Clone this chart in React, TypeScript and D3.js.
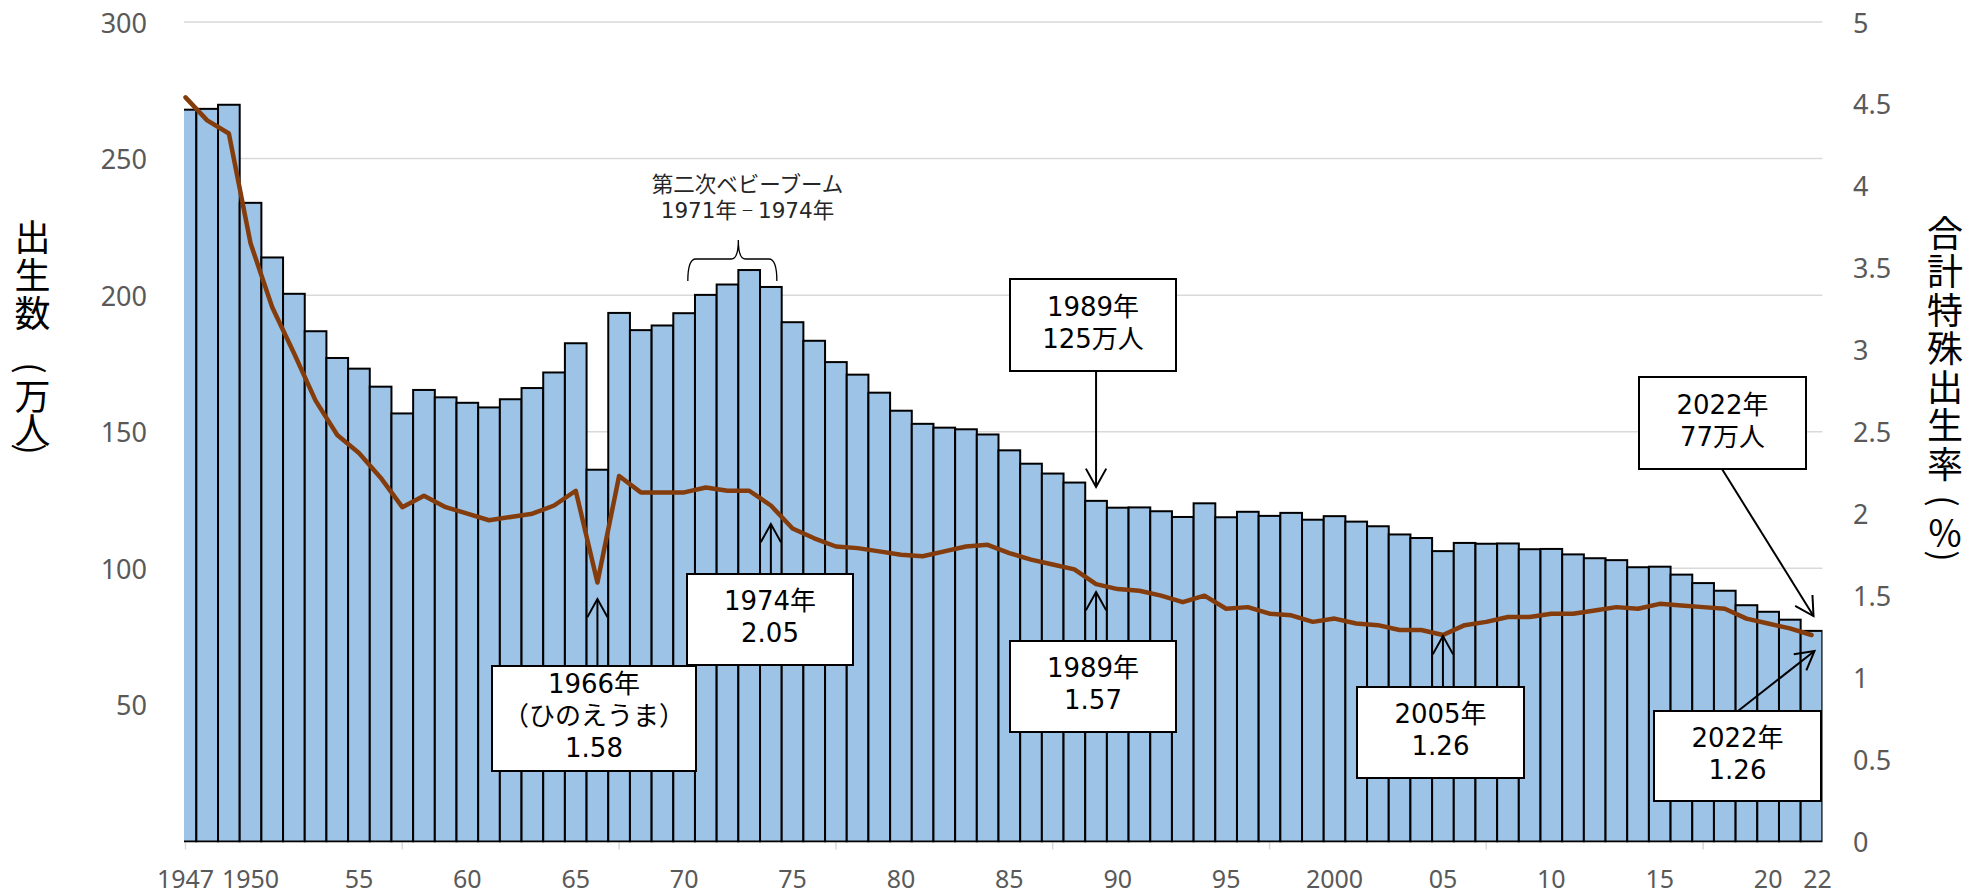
import React from "react";
import * as d3 from "d3";

// ---------- data ----------
const years = [
  1947, 1948, 1949, 1950, 1951, 1952, 1953, 1954, 1955, 1956, 1957, 1958, 1959,
  1960, 1961, 1962, 1963, 1964, 1965, 1966, 1967, 1968, 1969, 1970, 1971, 1972,
  1973, 1974, 1975, 1976, 1977, 1978, 1979, 1980, 1981, 1982, 1983, 1984, 1985,
  1986, 1987, 1988, 1989, 1990, 1991, 1992, 1993, 1994, 1995, 1996, 1997, 1998,
  1999, 2000, 2001, 2002, 2003, 2004, 2005, 2006, 2007, 2008, 2009, 2010, 2011,
  2012, 2013, 2014, 2015, 2016, 2017, 2018, 2019, 2020, 2021, 2022,
];

// 出生数（万人）
const births = [
  267.9, 268.2, 269.7, 233.8, 213.8, 200.5, 186.8, 177.0, 173.1, 166.5, 156.7,
  165.3, 162.6, 160.6, 158.9, 161.9, 166.0, 171.7, 182.4, 136.1, 193.5, 187.2,
  188.9, 193.4, 200.1, 203.9, 209.2, 203.0, 190.1, 183.3, 175.5, 170.9, 164.3,
  157.7, 152.9, 151.5, 150.9, 149.0, 143.2, 138.3, 134.7, 131.4, 124.7, 122.2,
  122.3, 120.9, 118.8, 123.8, 118.7, 120.7, 119.2, 120.3, 117.8, 119.1, 117.1,
  115.4, 112.4, 111.1, 106.3, 109.3, 109.0, 109.1, 107.0, 107.1, 105.1, 103.7,
  103.0, 100.4, 100.6, 97.7, 94.6, 91.8, 86.5, 84.1, 81.2, 77.1,
];

// 合計特殊出生率
const tfr = [
  4.54, 4.4, 4.32, 3.65, 3.26, 2.98, 2.69, 2.48, 2.37, 2.22, 2.04, 2.11, 2.04,
  2.0, 1.96, 1.98, 2.0, 2.05, 2.14, 1.58, 2.23, 2.13, 2.13, 2.13, 2.16, 2.14,
  2.14, 2.05, 1.91, 1.85, 1.8, 1.79, 1.77, 1.75, 1.74, 1.77, 1.8, 1.81, 1.76,
  1.72, 1.69, 1.66, 1.57, 1.54, 1.53, 1.5, 1.46, 1.5, 1.42, 1.43, 1.39, 1.38,
  1.34, 1.36, 1.33, 1.32, 1.29, 1.29, 1.26, 1.32, 1.34, 1.37, 1.37, 1.39, 1.39,
  1.41, 1.43, 1.42, 1.45, 1.44, 1.43, 1.42, 1.36, 1.33, 1.3, 1.26,
];

const xLabelYears = [1947, 1950, 1955, 1960, 1965, 1970, 1975, 1980, 1985, 1990, 1995, 2000, 2005, 2010, 2015, 2020, 2022];
const xLabelTexts = ["1947", "1950", "55", "60", "65", "70", "75", "80", "85", "90", "95", "2000", "05", "10", "15", "20", "22"];
const xTickYears = [1947, 1957, 1967, 1977, 1987, 1997, 2007, 2017];
const leftTicks = [50, 100, 150, 200, 250, 300];
const gridTicks = [50, 100, 150, 200, 250, 300];
const rightTicks = [0, 0.5, 1, 1.5, 2, 2.5, 3, 3.5, 4, 4.5, 5];

// vertical titles: characters, "(" and ")" are drawn turned for vertical setting
const leftTitleChars = ["出", "生", "数", "(", "万", "人", ")"];
const leftTitleYs = [235, 273, 311, 368, 394, 428, 449];
const rightTitleChars = ["合", "計", "特", "殊", "出", "生", "率", "(", "％", ")"];
const rightTitleYs = [230.5, 269, 307.5, 346, 384.5, 423, 461.5, 501, 531, 556];

const boomLine1 = "第二次ベビーブーム";
const boomLine2 = ["1971年", "－", "1974年"];

// ---------- layout ----------
const W = 1981;
const H = 892;
const plotLeft = 184;
const plotRight = 1822.5;
const plotTop = 22;
const plotBottom = 841.5;

const AXIS_FONT = "'Noto Sans', 'Open Sans', sans-serif";
const ANNO_FONT = "'DejaVu Sans', 'Noto Sans CJK JP', sans-serif";
const CJK_FONT = "'Noto Sans CJK JP', sans-serif";

const BAR_FILL = "#9DC3E6";
const LINE_COLOR = "#843C0C";
const GRID = "#D9D9D9";
const AXIS_TEXT = "#595959";

type Box = { x0: number; y0: number; x1: number; y1: number; lines: string[] };

const boxes: Box[] = [
  { x0: 492, y0: 666, x1: 696, y1: 771, lines: ["1966年", "（ひのえうま）", "1.58"] },
  { x0: 687, y0: 574, x1: 853, y1: 665, lines: ["1974年", "2.05"] },
  { x0: 1010, y0: 279, x1: 1176, y1: 371, lines: ["1989年", "125万人"] },
  { x0: 1010, y0: 641, x1: 1176, y1: 732, lines: ["1989年", "1.57"] },
  { x0: 1357, y0: 687, x1: 1524, y1: 778, lines: ["2005年", "1.26"] },
  { x0: 1639, y0: 377, x1: 1806, y1: 469, lines: ["2022年", "77万人"] },
  { x0: 1654, y0: 711, x1: 1821, y1: 801, lines: ["2022年", "1.26"] },
];

function Arrow({ x1, y1, x2, y2 }: { x1: number; y1: number; x2: number; y2: number }) {
  const ang = Math.atan2(y2 - y1, x2 - x1);
  const len = 21;
  const spread = (29 * Math.PI) / 180;
  const a1 = ang + Math.PI - spread;
  const a2 = ang + Math.PI + spread;
  const p1 = [x2 + len * Math.cos(a1), y2 + len * Math.sin(a1)];
  const p2 = [x2 + len * Math.cos(a2), y2 + len * Math.sin(a2)];
  return (
    <g stroke="#000" strokeWidth={2} fill="none">
      <line x1={x1} y1={y1} x2={x2} y2={y2} />
      <polyline points={`${p1[0]},${p1[1]} ${x2},${y2} ${p2[0]},${p2[1]}`} strokeLinejoin="miter" />
    </g>
  );
}

function VChar({ c, x, y }: { c: string; x: number; y: number }) {
  const isParen = c === "(" || c === ")";
  if (isParen) {
    return (
      <text
        transform={`translate(${x},${y}) rotate(90)`}
        x={0}
        y={0}
        textAnchor="middle"
        dominantBaseline="central"
        fontFamily={CJK_FONT}
        fontSize={34}
        fill="#000"
      >
        {c}
      </text>
    );
  }
  return (
    <text x={x} y={y} textAnchor="middle" dominantBaseline="central" fontFamily={CJK_FONT} fontSize={36} fill="#000">
      {c}
    </text>
  );
}

export default function App() {
  const x = d3.scaleLinear().domain([1947, 2022]).range([185.5, 1811.5]);
  const bw = x(1948) - x(1947);
  const yL = d3.scaleLinear().domain([0, 300]).range([plotBottom, plotTop]);
  const yR = d3.scaleLinear().domain([0, 5]).range([plotBottom, plotTop]);

  const linePath = d3
    .line<number>()
    .x((_, i) => x(years[i]))
    .y((d) => yR(d))(tfr) as string;

  const lineH = 32;
  const bx1 = x(1971);
  const bx2 = x(1974);
  const bmid = (bx1 + bx2) / 2;

  return (
    <div style={{ position: "absolute", left: 0, top: 0 }}>
      <svg width={W} height={H} viewBox={`0 0 ${W} ${H}`} style={{ display: "block", background: "#fff" }}>
        <defs>
          <clipPath id="plotClip">
            <rect x={plotLeft} y={0} width={plotRight - plotLeft} height={plotBottom + 1} />
          </clipPath>
        </defs>

        {/* gridlines */}
        {gridTicks.map((v) => (
          <line key={v} x1={plotLeft} x2={plotRight} y1={yL(v)} y2={yL(v)} stroke={GRID} strokeWidth={1.5} />
        ))}
        {/* x axis line & ticks */}
        <line x1={plotLeft} x2={plotRight} y1={plotBottom} y2={plotBottom} stroke={GRID} strokeWidth={1.5} />
        {xTickYears.map((yr) => (
          <line key={yr} x1={x(yr)} x2={x(yr)} y1={plotBottom} y2={plotBottom + 8} stroke={GRID} strokeWidth={1.5} />
        ))}

        {/* bars */}
        <g clipPath="url(#plotClip)">
          {births.map((b, i) => (
            <rect
              key={years[i]}
              x={x(years[i]) - bw / 2}
              y={yL(b)}
              width={bw}
              height={plotBottom - yL(b)}
              fill={BAR_FILL}
              stroke="#000"
              strokeWidth={2}
            />
          ))}
        </g>

        {/* TFR line */}
        <path d={linePath} fill="none" stroke={LINE_COLOR} strokeWidth={4.5} strokeLinejoin="round" strokeLinecap="round" />

        {/* left axis labels */}
        {leftTicks.map((v) => (
          <text key={v} x={147} y={yL(v)} textAnchor="end" dominantBaseline="central" fontFamily={AXIS_FONT} fontSize={27} fill={AXIS_TEXT}>
            {v}
          </text>
        ))}
        {/* right axis labels */}
        {rightTicks.map((v) => (
          <text key={v} x={1853} y={yR(v)} textAnchor="start" dominantBaseline="central" fontFamily={AXIS_FONT} fontSize={27} fill={AXIS_TEXT}>
            {String(v)}
          </text>
        ))}
        {/* x labels */}
        {xLabelYears.map((yr, i) => (
          <text
            key={yr}
            x={x(yr) + (yr === 2022 ? 6 : 0)}
            y={878}
            textAnchor="middle"
            dominantBaseline="central"
            fontFamily={AXIS_FONT}
            fontSize={25}
            fill={AXIS_TEXT}
          >
            {xLabelTexts[i]}
          </text>
        ))}

        {/* axis titles */}
        {leftTitleChars.map((c, i) => (
          <VChar key={i} c={c} x={32.5} y={leftTitleYs[i]} />
        ))}
        {rightTitleChars.map((c, i) => (
          <VChar key={i} c={c} x={1945} y={rightTitleYs[i]} />
        ))}

        {/* second baby boom annotation */}
        <text x={747.5} y={184} textAnchor="middle" dominantBaseline="central" fontFamily={ANNO_FONT} fontSize={21.5} fill="#262626">
          {boomLine1}
        </text>
        <text x={747.5} y={210} textAnchor="middle" dominantBaseline="central" fontFamily={ANNO_FONT} fontSize={21.5} fill="#262626">
          <tspan>{boomLine2[0]}</tspan>
          <tspan dx={4} fontSize={13}>{boomLine2[1]}</tspan>
          <tspan dx={4}>{boomLine2[2]}</tspan>
        </text>
        <path
          d={`M ${bx1 - 18} 281 Q ${bx1 - 18} 259 ${bx1 - 10} 259 L ${bmid - 7} 259 Q ${bmid} 259 ${bmid} 240 Q ${bmid} 259 ${bmid + 7} 259 L ${bx2 - 2} 259 Q ${bx2 + 6} 259 ${bx2 + 6} 281`}
          fill="none"
          stroke="#000"
          strokeWidth={1.3}
        />

        {/* arrows */}
        <Arrow x1={x(1966)} y1={666} x2={x(1966)} y2={599} />
        <Arrow x1={x(1974)} y1={574} x2={x(1974)} y2={524} />
        <Arrow x1={x(1989)} y1={371} x2={x(1989)} y2={487} />
        <Arrow x1={x(1989)} y1={641} x2={x(1989)} y2={592} />
        <Arrow x1={x(2005)} y1={687} x2={x(2005)} y2={636} />
        <Arrow x1={1722} y1={469} x2={x(2022) + 2} y2={616} />
        <Arrow x1={1738} y1={711} x2={x(2022) + 3} y2={651} />

        {/* boxes */}
        {boxes.map((b, bi) => {
          const cx = (b.x0 + b.x1) / 2;
          const cy = (b.y0 + b.y1) / 2 - 2.5;
          const n = b.lines.length;
          return (
            <g key={bi}>
              <rect x={b.x0} y={b.y0} width={b.x1 - b.x0} height={b.y1 - b.y0} fill="#fff" stroke="#000" strokeWidth={2} />
              {b.lines.map((t, li) => (
                <text
                  key={li}
                  x={cx}
                  y={cy + (li - (n - 1) / 2) * lineH}
                  textAnchor="middle"
                  dominantBaseline="central"
                  fontFamily={ANNO_FONT}
                  fontSize={26}
                  fill="#000"
                >
                  {t}
                </text>
              ))}
            </g>
          );
        })}
      </svg>
    </div>
  );
}
